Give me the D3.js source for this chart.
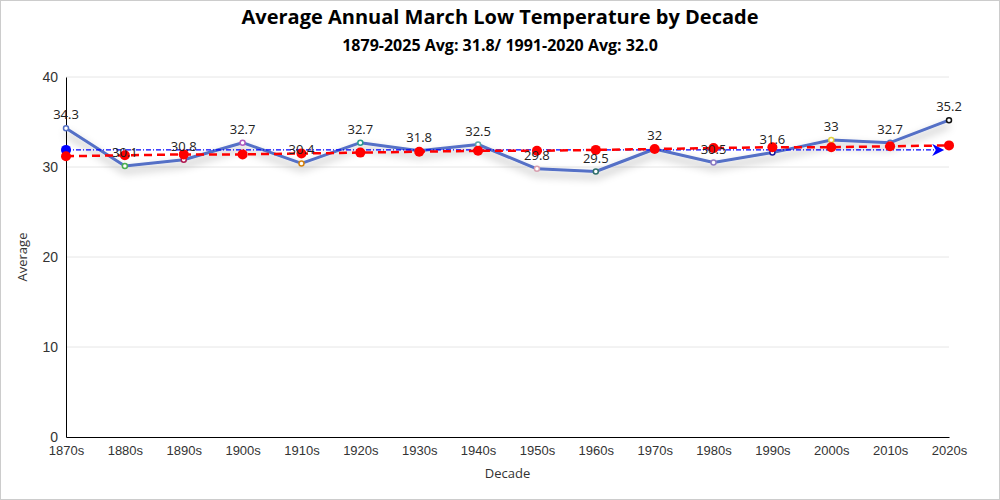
<!DOCTYPE html>
<html>
<head>
<meta charset="utf-8">
<script src="https://cdn.jsdelivr.net/npm/d3@7"></script>
<style>
	body { margin: 0; background: #fff; }
	svg { display: block; font-family: "Open Sans", "Noto Sans", sans-serif; }
</style>
</head>
<body>
<div id="chart"></div>
<script>
// decades and their average march lows
var decades = ["1870s", "1880s", "1890s", "1900s", "1910s", "1920s", "1930s", "1940s",
	"1950s", "1960s", "1970s", "1980s", "1990s", "2000s", "2010s", "2020s"];
var averages = [34.3, 30.1, 30.8, 32.7, 30.4, 32.7, 31.8, 32.5, 29.8, 29.5, 32, 30.5, 31.6, 33, 32.7, 35.2];
// trend line
var trend = [31.2, 31.3, 31.4, 31.4, 31.5, 31.6, 31.7, 31.8, 31.8, 31.9, 32.0, 32.1, 32.2, 32.2, 32.3, 32.4];
var normalAvg = 31.9;
var markerColors = ["#5470c6", "#4cb050", "#b0174f", "#b05cc0", "#d4820f", "#2a9d8f", "#6a8fb0", "#5ba3a8",
	"#d8a0b0", "#2f6f6a", "#5470c6", "#8e7cc3", "#1a1aa0", "#e0d040", "#5470c6", "#111111"];
var yTicks = [0, 10, 20, 30, 40];

var w = 1000, h = 500;
var margin = {top: 77, right: 51, bottom: 63, left: 66};

var svg = d3.select("#chart").append("svg")
	.attr("width", w)
	.attr("height", h);

svg.append("rect")
	.attr("x", 0.5).attr("y", 0.5)
	.attr("width", w - 1).attr("height", h - 1)
	.attr("fill", "#fff")
	.attr("stroke", "#ccc");

var defs = svg.append("defs");
var f = defs.append("filter").attr("id", "shadow")
	.attr("x", "-10%").attr("y", "-50%").attr("width", "120%").attr("height", "200%");
f.append("feDropShadow")
	.attr("dx", 0).attr("dy", 5).attr("stdDeviation", 4)
	.attr("flood-color", "#000").attr("flood-opacity", 0.35);

var arrow = defs.append("marker").attr("id", "arrow")
	.attr("viewBox", "0 0 10 10").attr("refX", 9).attr("refY", 5)
	.attr("markerWidth", 14).attr("markerHeight", 12)
	.attr("markerUnits", "userSpaceOnUse")
	.attr("orient", "auto");
arrow.append("path").attr("d", "M0,0 L10,5 L0,10 L3,5 Z").attr("fill", "blue");

var x = d3.scalePoint()
	.domain(decades)
	.range([margin.left, w - margin.right]);

var y = d3.scaleLinear()
	.domain([0, 40])
	.range([h - margin.bottom, margin.top]);

// grid
svg.append("g").selectAll("line")
	.data(yTicks.slice(1))
	.enter().append("line")
	.attr("x1", margin.left).attr("x2", w - margin.right)
	.attr("y1", function(d) { return y(d); })
	.attr("y2", function(d) { return y(d); })
	.attr("stroke", "#e6e6e6");

// axes
var yAxis = svg.append("g")
	.attr("transform", "translate(" + margin.left + ",0)")
	.call(d3.axisLeft(y).tickValues(yTicks).tickSize(0).tickPadding(8));
yAxis.select(".domain").attr("stroke", "#000");
yAxis.selectAll("text").attr("font-size", "14px").attr("fill", "#333");

var xAxis = svg.append("g")
	.attr("transform", "translate(0," + (h - margin.bottom) + ")")
	.call(d3.axisBottom(x).tickSize(0).tickPadding(9));
xAxis.select(".domain").attr("stroke", "#000");
xAxis.selectAll("text").attr("font-size", "13px").attr("fill", "#333");

// main line
var line = d3.line()
	.x(function(d, i) { return x(decades[i]); })
	.y(function(d) { return y(d); });

svg.append("path")
	.datum(averages)
	.attr("d", line)
	.attr("fill", "none")
	.attr("stroke", "#5470c6")
	.attr("stroke-width", 3)
	.attr("stroke-linejoin", "round")
	.attr("filter", "url(#shadow)");

svg.selectAll(".pt")
	.data(averages)
	.enter().append("circle")
	.attr("class", "pt")
	.attr("cx", function(d, i) { return x(decades[i]); })
	.attr("cy", function(d) { return y(d); })
	.attr("r", 2.5)
	.attr("fill", "#fff")
	.attr("stroke", function(d, i) { return markerColors[i]; })
	.attr("stroke-width", 1.5);

// 1991-2020 average
svg.append("line")
	.attr("x1", x(decades[0])).attr("x2", x(decades[decades.length - 1]) - 6)
	.attr("y1", y(normalAvg)).attr("y2", y(normalAvg))
	.attr("stroke", "blue")
	.attr("stroke-width", 1.3)
	.attr("stroke-dasharray", "5,2,1,2")
	.attr("marker-end", "url(#arrow)");
svg.append("circle")
	.attr("cx", x(decades[0])).attr("cy", y(normalAvg))
	.attr("r", 5).attr("fill", "blue");

// trend
svg.append("path")
	.datum(trend)
	.attr("d", line)
	.attr("fill", "none")
	.attr("stroke", "red")
	.attr("stroke-width", 2.5)
	.attr("stroke-dasharray", "8,5");

svg.selectAll(".tr")
	.data(trend)
	.enter().append("circle")
	.attr("class", "tr")
	.attr("cx", function(d, i) { return x(decades[i]); })
	.attr("cy", function(d) { return y(d); })
	.attr("r", 5)
	.attr("fill", "red");

// labels
svg.selectAll(".lbl")
	.data(averages)
	.enter().append("text")
	.attr("class", "lbl")
	.attr("x", function(d, i) { return x(decades[i]); })
	.attr("y", function(d) { return y(d) - 9; })
	.attr("text-anchor", "middle")
	.attr("font-size", "13px")
	.attr("fill", "#222")
	.text(function(d) { return d; });

// titles
svg.append("text")
	.attr("x", w / 2).attr("y", 24)
	.attr("text-anchor", "middle")
	.attr("font-size", "20px").attr("font-weight", "bold")
	.attr("fill", "#000")
	.text("Average Annual March Low Temperature by Decade");
svg.append("text")
	.attr("x", w / 2).attr("y", 51)
	.attr("text-anchor", "middle")
	.attr("font-size", "16px").attr("font-weight", "bold")
	.attr("fill", "#000")
	.text("1879-2025 Avg: 31.8/ 1991-2020 Avg: 32.0");

svg.append("text")
	.attr("x", (margin.left + w - margin.right) / 2).attr("y", 478)
	.attr("text-anchor", "middle")
	.attr("font-size", "13px").attr("fill", "#333")
	.text("Decade");
svg.append("text")
	.attr("transform", "translate(27," + y(20) + ") rotate(-90)")
	.attr("text-anchor", "middle")
	.attr("font-size", "13px").attr("fill", "#333")
	.text("Average");
</script>
</body>
</html>
